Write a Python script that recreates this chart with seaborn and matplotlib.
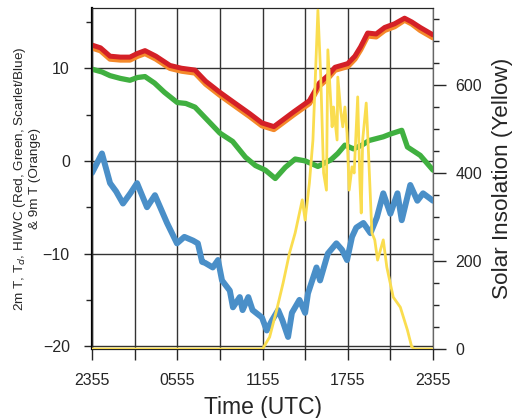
import numpy as np
import pandas as pd
import seaborn as sns
import matplotlib.pyplot as plt
from matplotlib.ticker import MultipleLocator, FixedLocator

# hours since 2355 UTC
red_h = [0, 0.6, 1.27, 2.0, 2.67, 3.2, 3.73, 4.5, 5.49, 6.3, 7.25, 8.0, 9.0, 10.0,
         11.1, 11.96, 12.8, 13.5, 14.2, 15.3, 16.0, 16.6, 17.1, 18.0, 18.5, 18.9,
         19.4, 20.0, 20.6, 21.3, 22.0, 22.5, 23.1, 24]
red_t = [12.5, 12.2, 11.3, 11.2, 11.2, 11.6, 11.9, 11.3, 10.3, 10.0, 9.8, 8.6, 7.4, 6.3,
         5.1, 4.1, 3.7, 4.5, 5.3, 6.5, 8.4, 9.2, 10.1, 10.5, 11.3, 12.3,
         13.8, 13.7, 14.4, 14.8, 15.4, 15.0, 14.4, 13.6]
orange_t = [12.2, 11.9, 11.0, 10.9, 10.9, 11.3, 11.6, 11.0, 10.0, 9.7, 9.5, 8.3, 7.1, 6.0,
            4.8, 3.8, 3.4, 4.2, 5.0, 6.2, 8.1, 8.9, 9.8, 10.2, 11.0, 12.0,
            13.5, 13.4, 14.1, 14.5, 15.2, 14.8, 14.1, 13.3]

green_h = [0, 0.7, 1.27, 2.0, 2.67, 3.2, 3.73, 4.4, 5.1, 6.0, 6.6, 7.25, 8.0, 9.0, 9.9,
           10.8, 11.5, 12.2, 12.9, 13.6, 14.3, 15.0, 15.9, 16.8, 17.3, 17.8, 18.4,
           19.0, 19.5, 20.5, 21.0, 21.8, 22.2, 23.1, 24]
green_t = [9.9, 9.6, 9.2, 8.9, 8.7, 9.0, 9.1, 8.4, 7.4, 6.3, 6.2, 5.8, 4.6, 3.0, 2.1,
           0.4, -0.5, -1.0, -1.9, -0.7, 0.2, 0.0, -0.6, 0.1, 0.8, 1.7, 1.3,
           1.7, 2.2, 2.6, 2.9, 3.3, 1.5, 0.6, -1.0]

blue_h = [0, 0.7, 1.27, 1.7, 2.18, 2.7, 3.17, 3.87, 4.43, 5.28, 5.98, 6.5, 7.11, 7.45,
          7.75, 7.95, 8.5, 8.87, 9.15, 9.7, 9.92, 10.4, 10.6, 11.0, 11.3, 11.96,
          12.3, 12.67, 13.1, 13.4, 13.8, 14.07, 14.6, 15.0, 15.2, 15.8, 16.05,
          16.6, 17.2, 17.6, 17.95, 18.3, 18.6, 19.1, 19.6, 20.05, 20.5,
          21.0, 21.5, 21.8, 22.4, 22.9, 23.3, 24]
blue_t = [-1.3, 0.8, -2.4, -3.3, -4.6, -3.5, -2.4, -5.0, -3.7, -6.7, -8.9, -8.2, -8.6, -8.9,
          -10.9, -11.0, -11.5, -10.7, -12.9, -14.0, -15.8, -14.7, -16.1, -14.7, -16.1, -16.9,
          -18.3, -17.2, -16.1, -17.2, -19.0, -16.4, -15.0, -16.4, -14.3, -11.5, -12.9,
          -10.0, -8.9, -9.6, -10.7, -8.2, -7.2, -6.7, -7.8, -6.1, -3.5,
          -5.7, -3.5, -6.4, -2.6, -4.3, -3.5, -4.3]

sun_h = [0, 12.0, 12.5, 13.0, 13.45, 13.9, 14.3, 14.8, 15.0, 15.3, 15.55, 15.9, 16.1,
         16.3, 16.5, 16.6, 16.9, 17.0, 17.25, 17.3, 17.5, 17.65, 17.8, 17.95, 18.1,
         18.3, 18.45, 18.7, 18.85, 18.95, 19.05, 19.3, 19.4, 19.7, 19.9, 20.1, 20.5,
         20.75, 21.2, 21.7, 22.2, 22.5, 22.7, 24]
sun_w = [0, 0, 27, 89, 150, 218, 264, 339, 293, 377, 475, 770, 618,
         400, 361, 680, 505, 550, 475, 618, 543, 505, 550, 491, 361,
         414, 400, 573, 384, 309, 475, 559, 491, 264, 248, 202, 248,
         186, 118, 95, 43, 5, 0, 0]

hour_ticks = [0, 6, 12, 18, 24]
hour_labels = ["2355", "0555", "1155", "1755", "2355"]

sns.set_style("ticks")
plt.rcParams['font.family'] = ['Liberation Sans', 'DejaVu Sans']

fig = plt.figure(figsize=(5.15, 4.18), dpi=100)
ax = fig.add_axes([92/515, 1-349/418, 341/515, 341/418])

sns.lineplot(x=red_h, y=orange_t, ax=ax, color="#f4892a", lw=4, zorder=3)
sns.lineplot(x=red_h, y=red_t, ax=ax, color="#d42027", lw=3.6, zorder=4)
sns.lineplot(x=green_h, y=green_t, ax=ax, color="#40b040", lw=3.8, zorder=4)
sns.lineplot(x=blue_h, y=blue_t, ax=ax, color="#4a8fc8", lw=4.3, zorder=4)

ax.set_xlim(0, 24)
ax.set_ylim(-20.3, 16.5)
ax.xaxis.set_major_locator(FixedLocator(hour_ticks))
ax.set_xticklabels(hour_labels)
ax.xaxis.set_minor_locator(FixedLocator([3, 9, 15, 21]))
ax.yaxis.set_major_locator(FixedLocator([-20, -10, 0, 10]))
ax.yaxis.set_minor_locator(FixedLocator([-15, -5, 5, 15]))
ax.grid(which="both", axis="x", color="0.2", lw=1.0)
ax.grid(which="major", axis="y", color="0.2", lw=1.0)
ax.set_axisbelow(True)
ax.tick_params(axis="x", which="both", length=8, width=1, pad=9, labelsize=11.5)
ax.tick_params(axis="y", which="major", length=6, width=1, pad=10, labelsize=11.5)
ax.tick_params(axis="y", which="minor", length=4, width=1)
for s in ax.spines.values():
    s.set_color("black")
ax.spines["left"].set_linewidth(1.6)
ax.set_xlabel("Time (UTC)", fontsize=16.5, labelpad=6)
ax.set_ylabel("2m T, T$_d$, HI/WC (Red, Green, Scarlet/Blue)\n& 9m T (Orange)",
              fontsize=9.7, labelpad=1, linespacing=1.15)

ax2 = ax.twinx()
sns.lineplot(x=sun_h, y=sun_w, ax=ax2, color="#fadd4f", lw=2.0, zorder=5)
ax2.set_ylim(0, 775)
ax2.yaxis.set_major_locator(FixedLocator([0, 200, 400, 600]))
ax2.yaxis.set_minor_locator(MultipleLocator(50))
ax2.tick_params(axis="y", which="major", length=9, width=1, pad=7, labelsize=11.5)
ax2.tick_params(axis="y", which="minor", length=4.5, width=1)
ax2.set_ylabel("Solar Insolation (Yellow)", fontsize=16.2, labelpad=7)
ax2.spines["right"].set_color("0.4")

fig.savefig("out.png", dpi=100)
